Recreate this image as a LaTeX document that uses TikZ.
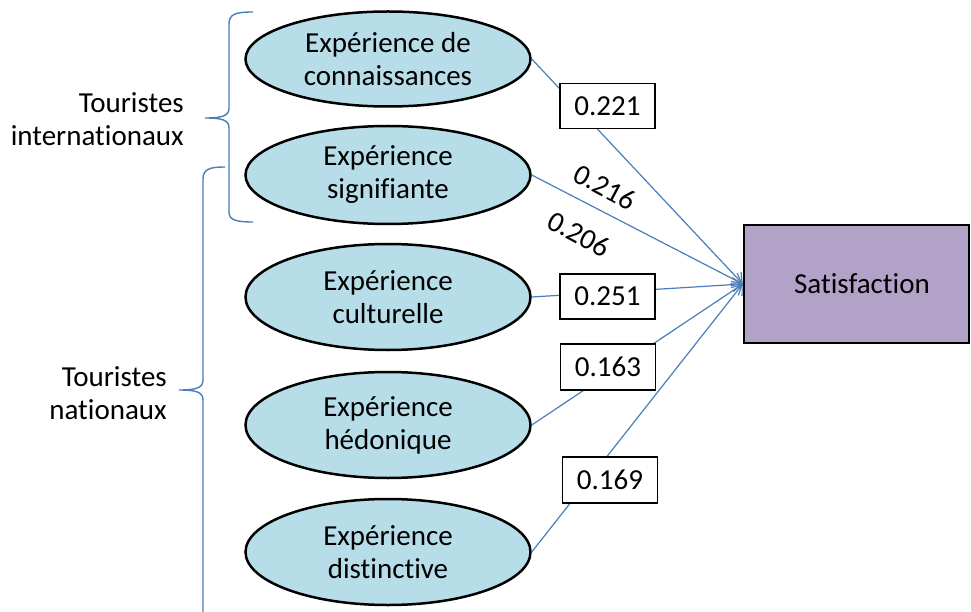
\documentclass[tikz,border=0pt]{standalone}
\usepackage{fontspec}
\setmainfont[Ligatures=NoCommon]{Carlito}
\usetikzlibrary{shapes.geometric,arrows.meta}
\definecolor{ellfill}{RGB}{183,222,232}
\definecolor{satfill}{RGB}{179,162,199}
\definecolor{linkblue}{RGB}{74,126,187}
\begin{document}
\begin{tikzpicture}[x=1pt,y=-1pt,
 every node/.style={font=\fontsize{29}{33}\selectfont},
 expnode/.style={ellipse,draw=black,line width=2.5pt,fill=ellfill,minimum width=285pt,inner sep=0pt,align=center},
 coefbox/.style={rectangle,draw=black,line width=1.2pt,fill=white,minimum width=95pt,minimum height=45pt,inner sep=0pt},
 link/.style={draw=linkblue,line width=1.2pt,-{Straight Barb[length=9pt,width=14pt]}},
 bracepath/.style={draw=linkblue,line width=1.4pt},
 grouplabel/.style={align=right,anchor=east,inner sep=0pt}]
\useasboundingbox (0,0) rectangle (971,612);
\fill[white] (0,0) rectangle (971,612);

% ellipses
\node[expnode,minimum height=95pt] (e1) at (388,59) {Expérience de\\connaissances};
\node[expnode,minimum height=98pt] (e2) at (388,175) {Expérience\\signifiante};
\node[expnode,minimum height=106pt] (e3) at (388,297) {Expérience\\culturelle};
\node[expnode,minimum height=106pt] (e4) at (388,425) {Expérience\\hédonique};
\node[expnode,minimum height=106pt] (e5) at (388,552) {Expérience\\distinctive};

% satisfaction
\node[rectangle,draw=black,line width=2.5pt,fill=satfill,minimum width=225pt,minimum height=118pt,inner sep=0pt] (sat) at (856.5,284) {\hspace{11pt}Satisfaction};

% connectors
\draw[link] (e1.east) -- (sat.west);
\draw[link] (e2.east) -- (sat.west);
\draw[link] (e3.east) -- (sat.west);
\draw[link] (e4.east) -- (sat.west);
\draw[link] (e5.east) -- (sat.west);

% coefficient boxes
\node[coefbox] (c221) at (607.5,106) {0.221};
\node[coefbox] (c251) at (607.5,296.5) {0.251};
\node[coefbox,minimum height=46pt] (c163) at (608,367) {0.163};
\node[coefbox,minimum height=46pt] (c169) at (610,480) {0.169};
\node[rotate=-28,inner sep=0pt] (c216) at (605,187) {0.216};
\node[rotate=-28,inner sep=0pt] (c206) at (579,234) {0.206};

% group labels
\node[grouplabel] (gint) at (184,119) {Touristes\\internationaux};
\node[grouplabel] (gnat) at (167,393) {Touristes\\nationaux};

% braces
\draw[bracepath] (253,12) .. controls (236,12) and (229,14) .. (229,24) -- (229,108)
  .. controls (229,116) and (222,118) .. (205,118)
  .. controls (222,118) and (229,120) .. (229,128) -- (229,212)
  .. controls (229,220) and (236,222) .. (253,222);
\draw[bracepath] (225,167) .. controls (210,167) and (203,169) .. (203,179) -- (203,380)
  .. controls (203,388) and (196,390) .. (179,390)
  .. controls (196,390) and (203,392) .. (203,400) -- (203,612);
\end{tikzpicture}
\end{document}
